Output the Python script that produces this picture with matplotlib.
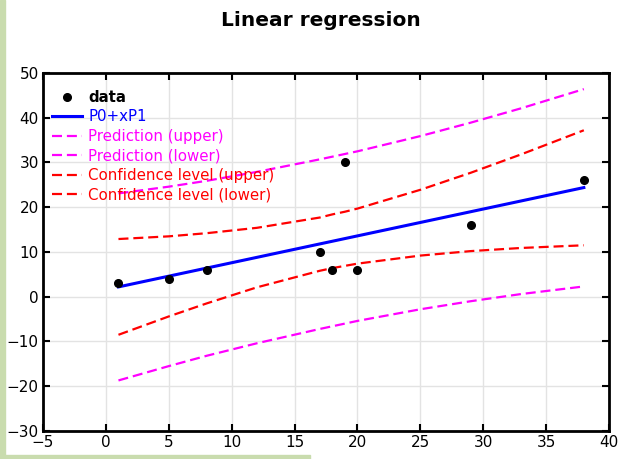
import matplotlib
matplotlib.use("Agg")
import matplotlib.pyplot as plt
import numpy as np

# observed points
data_x = [1, 5, 8, 17, 18, 19, 20, 29, 38]
data_y = [3, 4, 6, 10, 6, 30, 6, 16, 26]

# fitted line and bands
band_x = [1, 5, 8, 12, 17, 18, 19, 20, 25, 29, 33, 38]
fit_y = [2.2, 4.6, 6.4, 8.8, 11.8, 12.4, 13.0, 13.6, 16.6, 19.0, 21.4, 24.4]
pred_upper = [23.1, 24.6, 25.9, 27.9, 30.7, 31.3, 31.9, 32.5, 35.9, 38.9, 42.1, 46.4]
pred_lower = [-18.7, -15.5, -13.2, -10.4, -7.2, -6.6, -6.0, -5.4, -2.8, -1.0, 0.6, 2.3]
conf_upper = [12.9, 13.5, 14.2, 15.4, 17.7, 18.4, 19.0, 19.7, 23.9, 27.7, 31.8, 37.2]
conf_lower = [-8.5, -4.4, -1.5, 2.1, 5.8, 6.4, 6.9, 7.4, 9.2, 10.2, 10.9, 11.5]

xticks = np.arange(-5, 41, 5)
yticks = np.arange(-30, 51, 10)

fig = plt.figure(figsize=(6.36, 4.59), dpi=100)
ax = fig.add_axes([43 / 636, 1 - 431 / 459, 566 / 636, 358 / 459])

ax.plot(data_x, data_y, "o", color="black", markersize=5.5, label="data", zorder=5)
ax.plot(band_x, fit_y, "-", color="blue", lw=2.2, label="P0+xP1")
ax.plot(band_x, pred_upper, "--", color="magenta", lw=1.6, dashes=(4.5, 2.2),
        label="Prediction (upper)")
ax.plot(band_x, pred_lower, "--", color="magenta", lw=1.6, dashes=(4.5, 2.2),
        label="Prediction (lower)")
ax.plot(band_x, conf_upper, "--", color="red", lw=1.6, dashes=(4.5, 2.2),
        label="Confidence level (upper)")
ax.plot(band_x, conf_lower, "--", color="red", lw=1.6, dashes=(4.5, 2.2),
        label="Confidence level (lower)")

ax.set_xlim(-5, 40)
ax.set_ylim(-30, 50)
ax.set_xticks(xticks)
ax.set_yticks(yticks)
ax.grid(True, color="#e3e3e3", lw=1)
ax.set_axisbelow(True)
ax.tick_params(direction="in", top=True, right=True, length=5, width=1.5,
               labelsize=11, pad=3)
for s in ax.spines.values():
    s.set_linewidth(2)

leg = ax.legend(loc="upper left", frameon=False, fontsize=10.8,
                handlelength=2.0, handletextpad=0.4, labelspacing=0.3,
                borderaxespad=0.2, bbox_to_anchor=(0.0, 0.978))
for text, line in zip(leg.get_texts(), leg.get_lines()):
    c = line.get_color()
    text.set_color(c)
    if c == "black":
        text.set_fontweight("bold")

fig.text(0.505, 1 - 20 / 459, "Linear regression", ha="center", va="center",
         fontsize=14.5, fontweight="bold")

# screenshot border
fig.patches.append(plt.Rectangle((0, 0), 5 / 636, 1, transform=fig.transFigure,
                                 color="#c9dcae", zorder=10))
fig.patches.append(plt.Rectangle((0, 0), 310 / 636, 4 / 459, transform=fig.transFigure,
                                 color="#c9dcae", zorder=10))

fig.savefig("out.png", dpi=100)
